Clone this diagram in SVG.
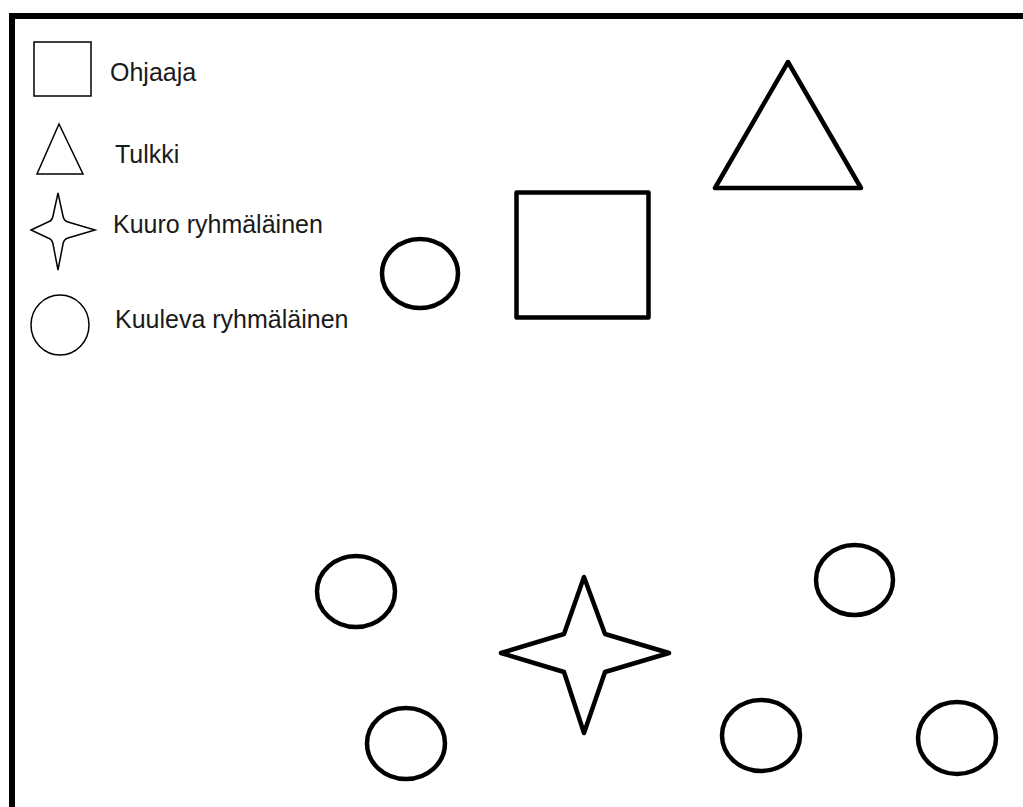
<svg xmlns="http://www.w3.org/2000/svg" width="1023" height="807" viewBox="0 0 1023 807">
<style>
.thin{fill:none;stroke:#000;stroke-width:1.5}
.bold{fill:none;stroke:#000;stroke-width:4.5;stroke-linejoin:round}
.lbl{font-family:"Liberation Sans",Arial,sans-serif;font-size:25px;fill:#1a1a1a}
</style>
<rect width="1023" height="807" fill="#fff"/>
<g id="frame">
<path d="M12 807 V16 H1023" fill="none" stroke="#000" stroke-width="6"/>
</g>
<g id="legend">
<g id="legend-ohjaaja"><rect class="thin" x="34" y="42" width="57" height="54"/><text class="lbl" x="110" y="81">Ohjaaja</text></g>
<g id="legend-tulkki"><polygon class="thin" points="59,124 37,174 83,174"/><text class="lbl" x="115" y="163">Tulkki</text></g>
<g id="legend-kuuro"><path class="thin" d="M58 193 L63 216 Q64 221 68 222 L95 230 L68 238 Q64 239 63 244 L58 270 L53 244 Q52 239 48 238 L31 230 L48 222 Q52 221 53 216 Z"/><text class="lbl" x="113" y="233">Kuuro ryhmäläinen</text></g>
<g id="legend-kuuleva"><ellipse class="thin" cx="60" cy="325" rx="29" ry="30"/><text class="lbl" x="115" y="328">Kuuleva ryhmäläinen</text></g>
</g>
<g id="nodes">
<g id="circle1"><ellipse class="bold" cx="420" cy="273.5" rx="38" ry="34.5"/></g>
<g id="square"><rect class="bold" x="516.5" y="192.5" width="132" height="125"/></g>
<g id="triangle"><polygon class="bold" points="788,62 715,188 861,188"/></g>
<g id="circle2"><ellipse class="bold" cx="356" cy="591.5" rx="39" ry="35.5"/></g>
<g id="circle3"><ellipse class="bold" cx="406" cy="743.5" rx="39" ry="35.5"/></g>
<g id="star"><path class="bold" d="M584 577 L564 634 L501 653 L564 672 L584 733 L605 672 L669 653 L605 634 Z"/></g>
<g id="circle4"><ellipse class="bold" cx="854.5" cy="580" rx="38.5" ry="35"/></g>
<g id="circle5"><ellipse class="bold" cx="761" cy="735.5" rx="39" ry="35.5"/></g>
<g id="circle6"><ellipse class="bold" cx="957" cy="738" rx="39" ry="36"/></g>
</g>
<g id="connectors"/>
</svg>
